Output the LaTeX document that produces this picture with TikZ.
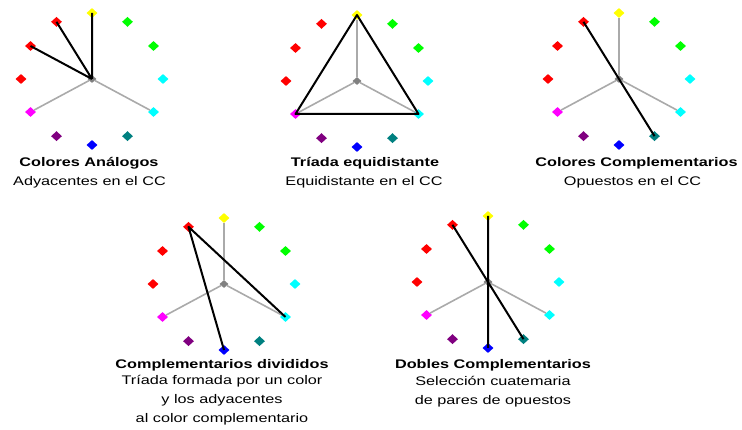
\documentclass[tikz,border=0pt]{standalone}
\usepackage{fontspec}
\setmainfont{Liberation Sans}
\usetikzlibrary{shapes.geometric}
\definecolor{morado}{HTML}{800080}
\definecolor{cian}{HTML}{00FFFF}
\definecolor{fucsia}{HTML}{FF00FF}
\definecolor{verde}{HTML}{00FF00}
\definecolor{amarillo}{HTML}{FFFF00}
\newcommand{\ancho}[1]{\scalebox{1.3}[1]{#1}}

\begin{document}
\begin{tikzpicture}[x=1pt, y=-1pt,
  punto/.style={diamond, inner sep=0pt, minimum width=11pt, minimum height=10pt, fill=#1},
  centro/.style={diamond, inner sep=0pt, minimum width=9pt, minimum height=8pt, fill={rgb:black,1;white,1}},
  radio/.style={draw={rgb:black,1;white,2}, line width=1.6pt},
  union/.style={draw=black, line width=2pt, line join=round},
  titulo/.style={font=\fontsize{12.5}{19}\selectfont\bfseries, inner sep=0pt},
  texto/.style={font=\fontsize{12.5}{19}\selectfont, align=center, inner sep=0pt}]
\useasboundingbox (0,0) rectangle (742,430);
% ruedas de color
\foreach \r/\cx/\cy in {a/92/79, b/357/81, c/619/79, d/224/284, e/488/282} {
  \foreach \k/\col in {0/amarillo, 1/verde, 2/verde, 3/cian, 4/cian, 5/teal, 6/blue, 7/morado, 8/fucsia, 9/red, 10/red, 11/red} {
    \pgfmathsetmacro{\px}{\cx+71*cos(30*\k-90)}
    \pgfmathsetmacro{\py}{\cy+66*sin(30*\k-90)}
    \node[punto=\col] (\r\k) at (\px,\py) {};
  }
  \node[centro] (\r) at (\cx,\cy) {};
  \draw[radio] (\r) -- (\r0) (\r) -- (\r4) (\r) -- (\r8);
}
% Colores Analogos
\draw[union] (a.center) -- (a0.center) (a.center) -- (a11.center) (a.center) -- (a10.center);
% Triada
\draw[union] (b0.center) -- (b4.center) -- (b8.center) -- cycle;
% Complementarios
\draw[union] (c11.center) -- (c5.center);
% Complementarios divididos
\draw[union] (d4.center) -- (d11.center) -- (d6.center);
% Dobles complementarios
\draw[union] (e0.center) -- (e6.center) (e11.center) -- (e5.center);
% textos
\node[titulo] (ta) at (89,163) {\ancho{Colores Análogos}};
\node[texto] (sa) at (89.5,182) {\ancho{Adyacentes en el CC}};
\node[titulo] (tb) at (365,163) {\ancho{Tríada equidistante}};
\node[texto] (sb) at (364,182) {\ancho{Equidistante en el CC}};
\node[titulo] (tc) at (636.5,163) {\ancho{Colores Complementarios}};
\node[texto] (sc) at (632.5,182) {\ancho{Opuestos en el CC}};
\node[titulo] (td) at (222,365) {\ancho{Complementarios divididos}};
\node[texto, anchor=north] (sd) at (222,375) {\ancho{Tríada formada por un color}\\ \ancho{y los adyacentes}\\ \ancho{al color complementario}};
\node[titulo] (te) at (493,365.5) {\ancho{Dobles Complementarios}};
\node[texto, anchor=north] (se) at (493,376) {\ancho{Selección cuatemaria}\\ \ancho{de pares de opuestos}};
\end{tikzpicture}
\end{document}
